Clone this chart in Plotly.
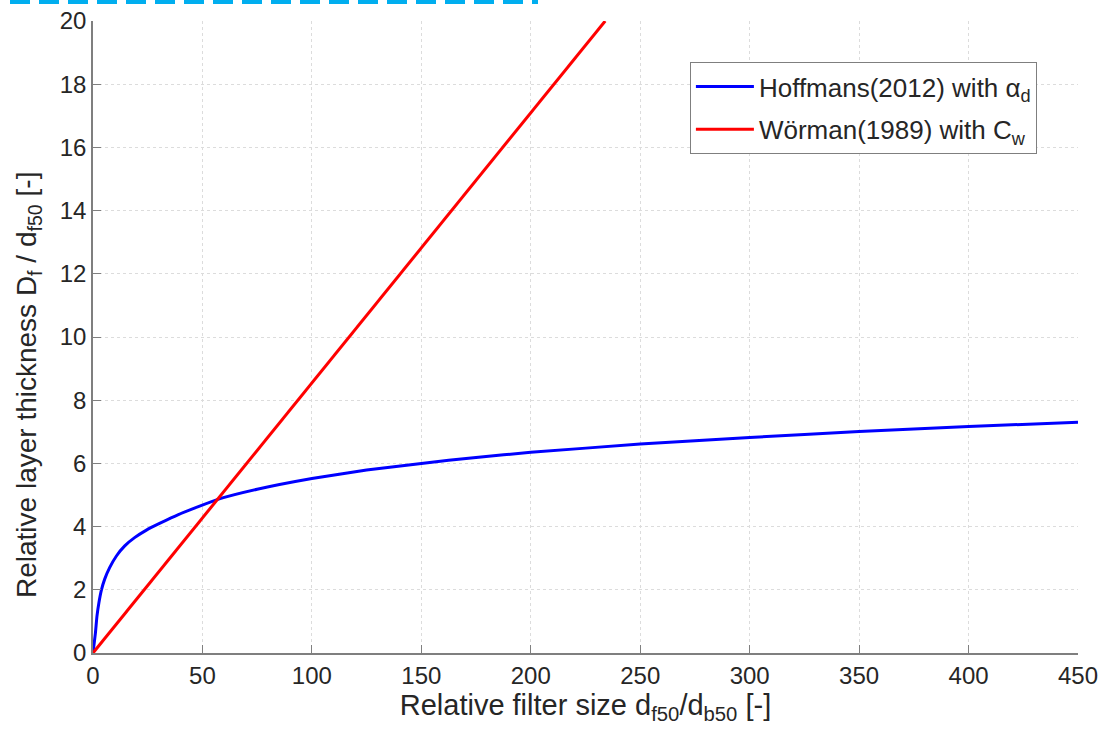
import plotly.graph_objects as go

# Hoffmans (2012) curve
hoff_x = [0, 1.1, 1.8, 2.7, 3.8, 5.3, 7.6, 10.7, 14.5, 19, 24.4, 30.4, 39, 57, 75, 100, 125, 150, 175, 200, 250, 300, 350, 400, 450]
hoff_y = [0, 0.63, 1.16, 1.59, 1.98, 2.33, 2.7, 3.07, 3.39, 3.65, 3.89, 4.1, 4.38, 4.86, 5.18, 5.52, 5.79, 6.0, 6.19, 6.35, 6.61, 6.82, 7.01, 7.17, 7.3]

# Wörman (1989) line
worm_x = [0, 234]
worm_y = [0, 20]

x_ticks = [0, 50, 100, 150, 200, 250, 300, 350, 400, 450]
y_ticks = [0, 2, 4, 6, 8, 10, 12, 14, 16, 18, 20]

FONT = "Liberation Sans, Arial, sans-serif"
TXT = "#262626"

fig = go.Figure()
fig.add_trace(go.Scatter(x=hoff_x, y=hoff_y, mode="lines",
                         line=dict(color="#0000FF", width=3, shape="spline", smoothing=0.4),
                         name="Hoffmans(2012) with α<sub>d</sub>", legendgroup="a"))
fig.add_trace(go.Scatter(x=worm_x, y=worm_y, mode="lines",
                         line=dict(color="#FF0000", width=3),
                         name="Wörman(1989) with C<sub>w</sub>", legendgroup="b"))

axis_common = dict(
    showline=True, linecolor="#7f7f7f", linewidth=1.5,
    ticks="inside", ticklen=8, tickcolor="#7f7f7f", tickwidth=1,
    showgrid=True, gridcolor="#dcdcdc", griddash="dot", gridwidth=1,
    zeroline=False, mirror=False, automargin=False,
    tickfont=dict(family=FONT, size=24, color=TXT),
)

fig.update_xaxes(range=[0, 450], tickvals=x_ticks,
                 title=dict(text="Relative filter size d<sub>f50</sub>/d<sub>b50</sub> [-]",
                            font=dict(family=FONT, size=29, color=TXT), standoff=2),
                 **axis_common)
fig.update_yaxes(range=[0, 20], tickvals=y_ticks, **axis_common)

fig.add_annotation(text="Relative layer thickness D<sub>f</sub> / d<sub>f50</sub> [-]",
                   xref="paper", yref="paper", x=(28 - 93) / 985, y=0.5,
                   xanchor="center", yanchor="middle", textangle=-90, showarrow=False,
                   yshift=-48,
                   font=dict(family=FONT, size=28, color=TXT))

fig.update_layout(
    width=1105, height=729,
    margin=dict(l=93, r=27, t=21, b=76),
    paper_bgcolor="white", plot_bgcolor="white",
    showlegend=True,
    legend=dict(x=0.606, y=0.935, xanchor="left", yanchor="top",
                bgcolor="white", bordercolor="#7f7f7f", borderwidth=1,
                font=dict(family=FONT, size=26, color=TXT),
                tracegroupgap=6, itemwidth=58),
    shapes=[dict(type="line", xref="paper", yref="paper",
                 x0=(10 - 93) / 985, x1=(538 - 93) / 985,
                 y0=(653 - 2) / 632, y1=(653 - 2) / 632,
                 line=dict(color="#00AEEF", width=4, dash="20px,9px"))],
)

fig.write_html("out.html", config={"displayModeBar": False},
               post_script="document.body.style.margin='0';document.body.style.overflow='hidden';")
